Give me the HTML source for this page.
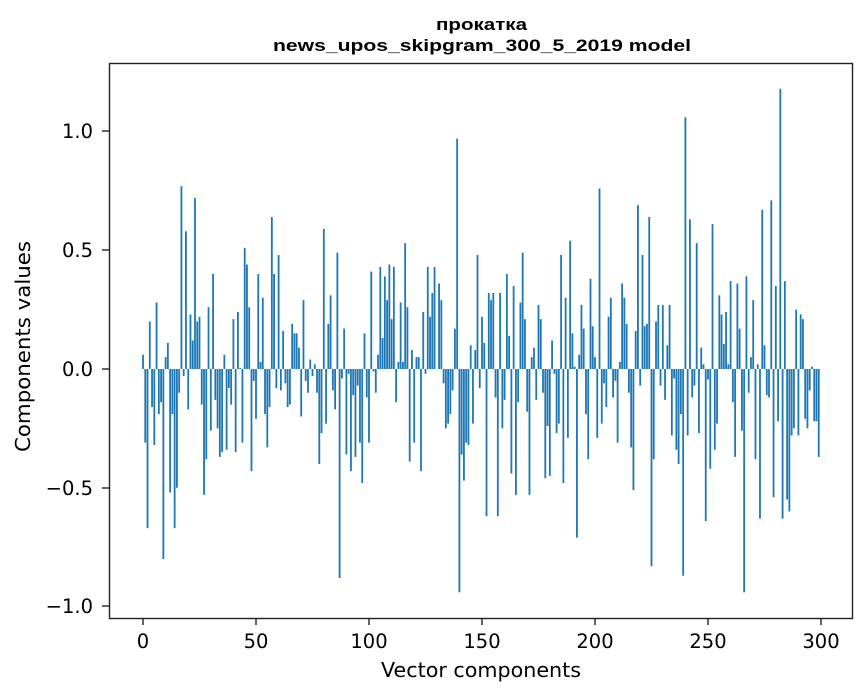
<!DOCTYPE html>
<html><head><meta charset="utf-8"><style>
html,body{margin:0;padding:0;background:#fff;}
svg{display:block;font-family:"DejaVu Sans","Liberation Sans",sans-serif;}
</style></head><body>
<svg id="s" width="867" height="696" viewBox="0 0 867 696" xmlns="http://www.w3.org/2000/svg">
<rect width="867" height="696" fill="#fff"/>
<g id="bars" fill="#1f77b4"></g>
<rect x="109.5" y="63.5" width="743" height="555" fill="none" stroke="#222" stroke-width="1.4"/>
<g stroke="#222" stroke-width="1.4">
<line x1="143" y1="618" x2="143" y2="625"/><line x1="256" y1="618" x2="256" y2="625"/><line x1="369" y1="618" x2="369" y2="625"/><line x1="482" y1="618" x2="482" y2="625"/><line x1="595" y1="618" x2="595" y2="625"/><line x1="708" y1="618" x2="708" y2="625"/><line x1="821" y1="618" x2="821" y2="625"/>
<line x1="102" y1="131" x2="109" y2="131"/><line x1="102" y1="250" x2="109" y2="250"/><line x1="102" y1="369" x2="109" y2="369"/><line x1="102" y1="488" x2="109" y2="488"/><line x1="102" y1="606" x2="109" y2="606"/>
</g>
<g font-size="19.5" fill="#000" text-anchor="middle">
<text x="143" y="648">0</text><text x="256" y="648">50</text><text x="369" y="648">100</text><text x="482" y="648">150</text><text x="595" y="648">200</text><text x="708" y="648">250</text><text x="821" y="648">300</text>
</g>
<g font-size="19.5" fill="#000" text-anchor="end">
<text x="93" y="138">1.0</text><text x="93" y="257">0.5</text><text x="93" y="376">0.0</text><text x="93" y="495">−0.5</text><text x="93" y="613">−1.0</text>
</g>
<text x="381" y="677" font-size="20" textLength="200" lengthAdjust="spacingAndGlyphs">Vector components</text>
<text transform="translate(30,452) rotate(-90)" font-size="20" textLength="211" lengthAdjust="spacingAndGlyphs">Components values</text>
<g font-family="'Liberation Sans',sans-serif" font-weight="bold">
<text x="436" y="30" font-size="17" textLength="91" lengthAdjust="spacingAndGlyphs">прокатка</text>
<text x="273" y="51" font-size="17" textLength="418" lengthAdjust="spacingAndGlyphs">news_upos_skipgram_300_5_2019 model</text>
</g>
</svg>
<script>
var v=[0.06,-0.31,-0.67,0.20,-0.16,-0.32,0.28,-0.19,-0.14,-0.80,0.05,0.11,-0.52,-0.19,-0.67,-0.50,-0.10,0.77,-0.03,0.58,-0.17,0.23,0.12,0.72,0.20,0.22,-0.15,-0.53,-0.38,0.26,-0.26,0.40,-0.13,-0.25,-0.37,-0.35,0.06,-0.34,-0.08,-0.15,0.21,-0.35,0.24,0.005,-0.31,0.51,0.44,0.26,-0.43,-0.05,
-0.21,0.40,0.03,0.30,-0.19,-0.33,-0.16,0.64,0.40,-0.08,0.48,-0.09,0.16,-0.06,-0.16,-0.15,0.19,0.15,0.15,0.09,-0.20,0.29,-0.05,-0.10,0.04,-0.03,0.02,-0.10,-0.40,-0.27,
0.59,-0.23,0.19,0.31,-0.09,-0.17,0.49,-0.88,-0.04,0.17,-0.36,-0.02,-0.43,-0.11,-0.37,-0.07,-0.31,-0.48,0.15,-0.12,
-0.31,0.41,-0.01,-0.10,0.06,0.43,0.13,0.39,0.29,0.44,0.21,0.43,-0.14,0.03,0.28,0.03,0.53,0.26,-0.39,0.08,-0.31,0.05,0.05,-0.43,0.24,-0.02,0.43,0.22,0.32,0.43,
0.0,0.36,0.29,-0.06,-0.25,-0.23,-0.19,-0.09,0.17,0.97,-0.94,-0.36,-0.47,-0.31,-0.32,0.10,-0.23,0.08,0.48,-0.08,
0.22,0.11,-0.62,0.32,0.29,0.32,-0.12,-0.62,0.32,-0.25,-0.13,0.40,0.14,-0.44,0.35,-0.53,-0.14,0.28,0.49,0.21,-0.18,-0.53,0.05,0.09,-0.13,0.27,0.21,-0.10,
-0.46,-0.24,-0.45,0.12,-0.02,-0.27,-0.23,0.48,-0.48,0.30,-0.29,0.54,0.15,0.01,-0.71,0.06,0.27,0.17,-0.19,-0.38,0.38,
0.18,0.05,-0.29,0.76,-0.23,-0.06,-0.16,0.22,0.30,-0.12,-0.05,-0.31,0.03,0.36,0.30,0.19,-0.10,-0.33,-0.51,0.16,0.69,-0.07,0.48,0.18,0.19,0.64,-0.83,-0.38,0.20,0.27,-0.07,0.27,-0.13,0.10,0.27,-0.28,-0.04,-0.34,-0.40,-0.19,-0.87,1.06,-0.28,0.63,-0.12,-0.07,0.53,-0.27,0.09,0.02,-0.64,
-0.045,-0.42,0.61,-0.34,-0.23,0.31,0.23,0.105,0.24,0.02,0.37,-0.14,-0.37,0.36,0.17,-0.26,-0.94,0.39,-0.10,0.05,0.29,-0.38,0.02,-0.63,0.67,0.10,-0.11,-0.12,0.71,-0.54,0.35,-0.22,1.18,-0.63,0.37,-0.55,-0.60,-0.28,-0.25,0.25,-0.28,0.23,0.21,-0.21,-0.25,-0.09,0.01,-0.22,-0.22,-0.37];
var g=document.getElementById('bars'),h='';
for(var i=0;i<v.length&&i<300;i++){var x=143+2.26*i-0.9,y0=369,hh=v[i]*237.5;
var y=hh>=0?y0-hh:y0;h+='<rect x="'+x.toFixed(2)+'" y="'+y.toFixed(2)+'" width="1.81" height="'+Math.abs(hh).toFixed(2)+'"/>';}
g.innerHTML=h;
</script>
</body></html>
